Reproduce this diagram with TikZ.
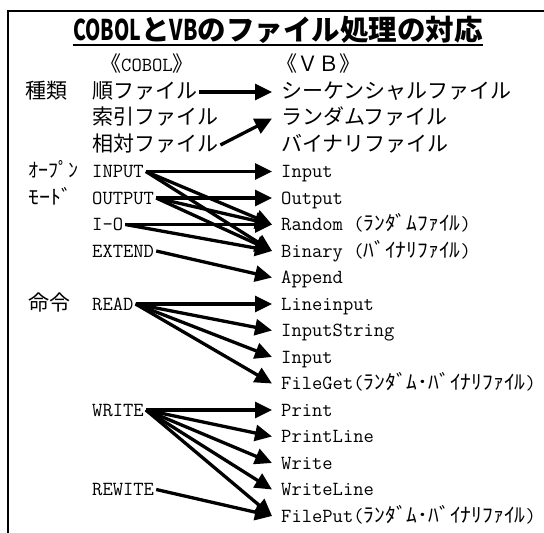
\documentclass[tikz,border=0pt]{standalone}
\usepackage{fontspec}
\usepackage{graphicx}
\usetikzlibrary{arrows.meta}
\newfontfamily\jp{Noto Sans CJK JP}
\newcommand\jtxt{\jp\fontsize{21}{24}\selectfont}
\newcommand\ttxt{\ttfamily\fontsize{20}{24}\selectfont}
\newcommand\hkw[2]{\resizebox{#1}{\height}{\jp\fontsize{20}{24}\selectfont #2}}
\tikzset{
  lbl/.style={anchor=west, inner xsep=0pt, inner ysep=0pt, text height=13pt, text depth=1pt},
  src/.style={lbl, inner xsep=2pt},
  tgt/.style={lbl, inner xsep=9pt},
  arr/.style={line width=3.3pt, -{Triangle[length=17pt,width=16pt]}},
}
\begin{document}
\begin{tikzpicture}[x=1pt,y=-1pt]
\useasboundingbox (0,0) rectangle (544,533);
\draw[line width=2pt] (8,533) -- (8,11) -- (544,11);
% title
\node[anchor=base, inner sep=0pt, text depth=5pt] (title) at (278,40)
  {\jp\bfseries\fontsize{28.5}{32}\selectfont\resizebox{68pt}{\height}{COBOL}と\resizebox{28pt}{\height}{VB}のファイル処理の対応};
\draw[line width=2pt] (title.south west) -- (title.south east);
% headers
\node[lbl] (hcobol) at (100,65) {\jtxt 《\ttxt COBOL\jtxt 》};
\node[lbl] (hvb) at (276,65) {\jtxt 《ＶＢ》};
% left labels
\node[lbl] (kind) at (25,92) {\jtxt 種類};
\node[lbl] (open1) at (28,171.5) {\hkw{50pt}{ｵｰﾌﾟﾝ}};
\node[lbl] (open2) at (28,198) {\hkw{44pt}{ﾓｰﾄﾞ}};
\node[lbl] (cmd) at (28,304) {\jtxt 命令};
% COBOL column
\node[src] (jun) at (90,92) {\jtxt 順ファイル};
\node[src] (sakuin) at (90,118.5) {\jtxt 索引ファイル};
\node[src] (soutai) at (90,145) {\jtxt 相対ファイル};
\node[src] (cin) at (90,171.5) {\ttxt INPUT};
\node[src] (cout) at (90,198) {\ttxt OUTPUT};
\node[src] (cio) at (90,224.5) {\ttxt I-O};
\node[src] (cext) at (90,251) {\ttxt EXTEND};
\node[src] (cread) at (90,304) {\ttxt READ};
\node[src] (cwrite) at (90,410) {\ttxt WRITE};
\node[src] (crew) at (90,489.5) {\ttxt REWITE};
% VB column
\node[tgt] (seq) at (272,92) {\jtxt シーケンシャルファイル};
\node[tgt] (rnd) at (272,118.5) {\jtxt ランダムファイル};
\node[tgt] (bin) at (272,145) {\jtxt バイナリファイル};
\node[tgt] (vin) at (272,171.5) {\ttxt Input};
\node[tgt] (vout) at (272,198) {\ttxt Output};
\node[tgt] (vrnd) at (272,224.5) {\ttxt Random (\hkw{97pt}{ﾗﾝﾀﾞﾑﾌｧｲﾙ})};
\node[tgt] (vbin) at (272,251) {\ttxt Binary (\hkw{97pt}{ﾊﾞｲﾅﾘﾌｧｲﾙ})};
\node[tgt] (vapp) at (272,277.5) {\ttxt Append};
\node[tgt] (vli) at (272,304) {\ttxt Lineinput};
\node[tgt] (vis) at (272,330.5) {\ttxt InputString};
\node[tgt] (vin2) at (272,357) {\ttxt Input};
\node[tgt] (vget) at (272,383.5) {\ttxt FileGet(\hkw{162pt}{ﾗﾝﾀﾞﾑ･ﾊﾞｲﾅﾘﾌｧｲﾙ})};
\node[tgt] (vpr) at (272,410) {\ttxt Print};
\node[tgt] (vprl) at (272,436.5) {\ttxt PrintLine};
\node[tgt] (vwr) at (272,463) {\ttxt Write};
\node[tgt] (vwrl) at (272,489.5) {\ttxt WriteLine};
\node[tgt] (vput) at (272,516) {\ttxt FilePut(\hkw{162pt}{ﾗﾝﾀﾞﾑ･ﾊﾞｲﾅﾘﾌｧｲﾙ})};
% arrows
\draw[arr] (jun.east) -- (seq.west);
\draw[arr] (soutai.east) -- (rnd.west);
\foreach \t in {vin,vrnd,vbin} \draw[arr] (cin.east) -- (\t.west);
\foreach \t in {vout,vrnd,vbin} \draw[arr] (cout.east) -- (\t.west);
\foreach \t in {vrnd,vbin} \draw[arr] (cio.east) -- (\t.west);
\draw[arr] (cext.east) -- (vapp.west);
\foreach \t in {vli,vis,vin2,vget} \draw[arr] (cread.east) -- (\t.west);
\foreach \t in {vpr,vprl,vwr,vwrl,vput} \draw[arr] (cwrite.east) -- (\t.west);
\draw[arr] (crew.east) -- (vput.west);
\end{tikzpicture}
\end{document}
